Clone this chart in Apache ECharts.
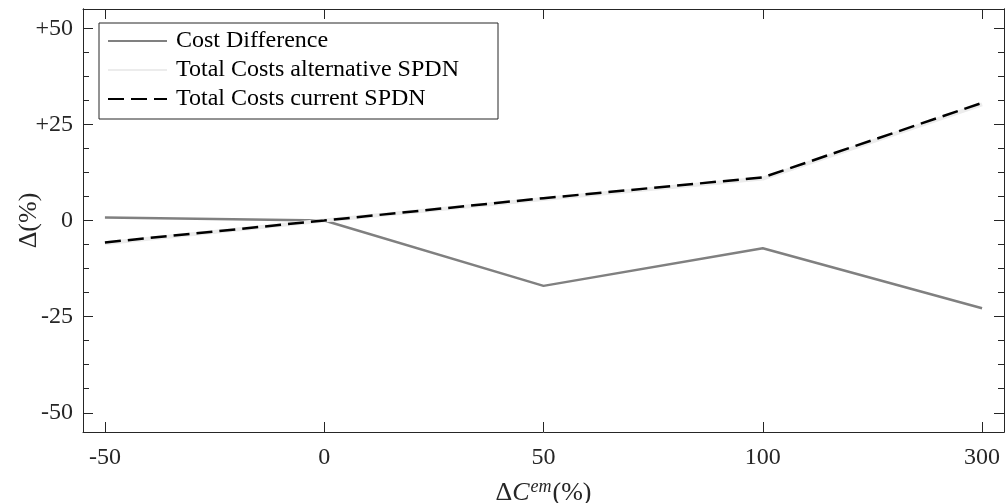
<!DOCTYPE html>
<html>
<head>
<meta charset="utf-8">
<script src="https://cdn.jsdelivr.net/npm/echarts@6/dist/echarts.min.js"></script>
<style>
  html, body { margin: 0; padding: 0; background: #fff; }
  #chart { width: 1005px; height: 503px; }
</style>
</head>
<body>
<div id="chart"></div>
<script>
// x categories (ΔC^em in %), drawn at evenly spaced positions
const xCategories = ['-50', '0', '50', '100', '300']
const costDifference = [0.8, 0, -17, -7.2, -22.8]
const totalAlternative = [-5.9, 0, 5.6, 10.9, 30.2]
const totalCurrent = [-5.7, 0, 5.8, 11.2, 30.6]
const yMajorTicks = [-50, -25, 0, 25, 50]
const yMinorTicks = [-50, -43.75, -37.5, -31.25, -25, -18.75, -12.5, -6.25, 0, 6.25, 12.5, 18.75, 25, 31.25, 37.5, 43.75, 50]

const axisColor = '#262626'
const serif = '"Liberation Serif", "Times New Roman", serif'
const xIdx = xCategories.map((c, i) => i)
const toPairs = arr => arr.map((v, i) => [i, v])

const chart = echarts.init(document.getElementById('chart'))

// one y axis, reused for left/right and major/minor ticks
const makeY = (position, ticks, len, withLabel) => ({
  type: 'value',
  position: position,
  min: -55,
  max: 55,
  axisLine: { show: true, onZero: false, lineStyle: { color: axisColor, width: 1 } },
  axisTick: { show: true, inside: true, length: len, customValues: ticks, lineStyle: { color: axisColor } },
  axisLabel: withLabel ? {
    show: true,
    customValues: yMajorTicks,
    margin: 10,
    color: axisColor,
    fontFamily: serif,
    fontSize: 24,
    formatter: v => (v > 0 ? '+' + v : String(v))
  } : { show: false },
  splitLine: { show: false }
})

const yLeft = makeY('left', yMajorTicks, 10, true)
yLeft.name = 'Δ(%)'
yLeft.nameLocation = 'middle'
yLeft.nameGap = 41
yLeft.nameMoveOverlap = false
yLeft.nameTextStyle = { color: axisColor, fontFamily: serif, fontSize: 26 }

const option = {
  backgroundColor: '#fff',
  animation: false,
  grid: { left: 83, right: 1, top: 9, bottom: 71, containLabel: false, outerBoundsMode: 'none' },
  legend: {
    orient: 'vertical',
    left: 99,
    top: 23,
    padding: [6, 9, 8, 8],
    itemWidth: 59,
    itemHeight: 24,
    itemGap: 5,
    borderColor: axisColor,
    borderWidth: 1,
    backgroundColor: '#fff',
    itemStyle: { opacity: 0 },
    textStyle: { fontFamily: serif, fontSize: 24, color: '#000', lineHeight: 24, width: 313, padding: [0, 0, 0, 4] },
    data: ['Cost Difference', 'Total Costs alternative SPDN', 'Total Costs current SPDN']
  },
  xAxis: [
    {
      type: 'value',
      position: 'bottom',
      min: -0.1,
      max: 4.1,
      name: '{d|Δ}{c|C}{s|em}{d|(%)}',
      nameLocation: 'middle',
      nameGap: 46,
      nameMoveOverlap: false,
      nameTextStyle: {
        rich: {
          d: { fontFamily: serif, fontSize: 26, color: axisColor },
          c: { fontFamily: serif, fontSize: 26, fontStyle: 'italic', color: axisColor },
          s: { fontFamily: serif, fontSize: 18, fontStyle: 'italic', color: axisColor, padding: [0, 1, 12, 1] }
        }
      },
      axisLine: { show: true, onZero: false, lineStyle: { color: axisColor, width: 1 } },
      axisTick: { show: true, inside: true, length: 10, customValues: xIdx, lineStyle: { color: axisColor } },
      axisLabel: {
        show: true,
        customValues: xIdx,
        margin: 14,
        color: axisColor,
        fontFamily: serif,
        fontSize: 24,
        formatter: v => xCategories[Math.round(v)]
      },
      splitLine: { show: false }
    },
    {
      type: 'value',
      position: 'top',
      min: -0.1,
      max: 4.1,
      axisLine: { show: true, onZero: false, lineStyle: { color: axisColor, width: 1 } },
      axisTick: { show: true, inside: true, length: 10, customValues: xIdx, lineStyle: { color: axisColor } },
      axisLabel: { show: false },
      splitLine: { show: false }
    }
  ],
  yAxis: [
    yLeft,
    makeY('left', yMinorTicks, 6, false),
    makeY('right', yMajorTicks, 10, false),
    makeY('right', yMinorTicks, 6, false)
  ],
  series: [
    {
      name: 'Cost Difference',
      type: 'line',
      data: toPairs(costDifference),
      symbol: 'none',
      lineStyle: { color: '#808080', width: 2.5 },
      itemStyle: { color: '#808080' },
      z: 2
    },
    {
      name: 'Total Costs alternative SPDN',
      type: 'line',
      data: toPairs(totalAlternative),
      symbol: 'none',
      lineStyle: { color: '#ececec', width: 4 },
      itemStyle: { color: '#ececec' },
      z: 3
    },
    {
      name: 'Total Costs current SPDN',
      type: 'line',
      data: toPairs(totalCurrent),
      symbol: 'none',
      lineStyle: { color: '#000', width: 2.5, type: [16, 7] },
      itemStyle: { color: '#000' },
      z: 4
    }
  ]
}

chart.setOption(option)
</script>
</body>
</html>
